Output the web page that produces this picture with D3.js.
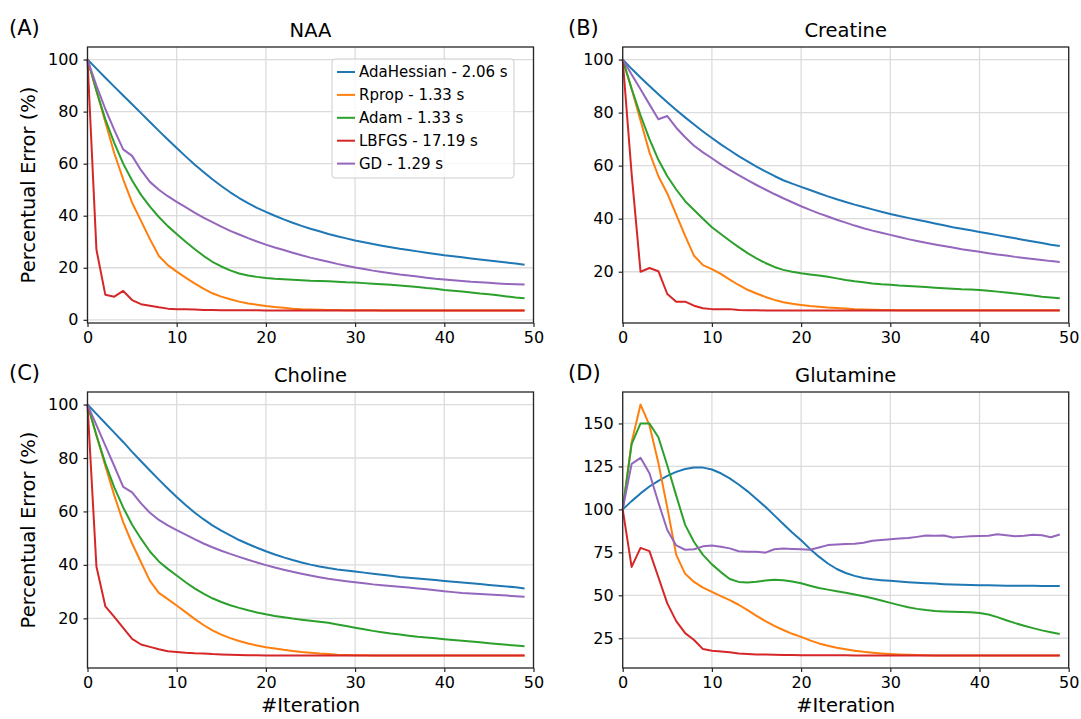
<!DOCTYPE html>
<html>
<head>
<meta charset="utf-8">
<script src="https://cdn.jsdelivr.net/npm/d3@7"></script>
<style>
  body { margin: 0; background: #fff; }
  text { font-family: "DejaVu Sans", sans-serif; fill: #000; }
</style>
</head>
<body>
<div id="chart"></div>
<script>
// methods (legend text)
const methods = ["AdaHessian - 2.06 s", "Rprop - 1.33 s", "Adam - 1.33 s", "LBFGS - 17.19 s", "GD - 1.29 s"];
const colors = ["#1f77b4", "#ff7f0e", "#2ca02c", "#d62728", "#9467bd"];

const xTicks = [0, 10, 20, 30, 40, 50];

// NAA
const naaAdaHessian = [100,96.5,93,89.6,86.2,82.8,79.4,76,72.6,69.3, 66,62.8,59.7,56.8,54,51.4,49,46.8,44.8,43, 41.5,40,38.6,37.3,36.1,35,34,33,32.1,31.3, 30.5,29.8,29.1,28.5,27.9,27.3,26.8,26.3,25.8,25.3, 24.8,24.4,24,23.6,23.2,22.8,22.4,22,21.6,21.2];
const naaRprop = [100,88,76,64,54,45,38,31,24.5,21, 18.5,16.2,14,12,10.2,8.9,7.9,7,6.3,5.8, 5.3,4.9,4.6,4.3,4.1,4,3.9,3.8,3.75,3.7, 3.7,3.65,3.65,3.6,3.6,3.6,3.6,3.6,3.6,3.6, 3.6,3.6,3.6,3.6,3.6,3.6,3.6,3.6,3.6,3.6];
const naaAdam = [100,88,77,68,60,53.5,48,43.5,39.5,36, 33,30,27.2,24.6,22.3,20.5,19,17.8,17,16.5, 16.1,15.8,15.6,15.4,15.2,15,14.9,14.8,14.6,14.4, 14.3,14.1,13.9,13.7,13.5,13.2,12.9,12.6,12.2,11.9, 11.5,11.2,10.9,10.5,10.1,9.8,9.4,9,8.6,8.3];
const naaLbfgs = [100,27,9.6,8.9,11.1,7.6,6,5.4,4.8,4.3, 4.1,4.1,4,3.8,3.8,3.7,3.7,3.7,3.7,3.7, 3.6,3.6,3.6,3.6,3.6,3.6,3.6,3.6,3.6,3.6, 3.6,3.6,3.6,3.6,3.6,3.6,3.6,3.6,3.6,3.6, 3.6,3.6,3.6,3.6,3.6,3.6,3.6,3.6,3.6,3.6];
const naaGd = [100,90,81,73,65.5,63,57.5,53,50,47.5, 45.3,43.3,41.2,39.3,37.5,35.8,34.2,32.8,31.4,30.1, 28.9,27.8,26.8,25.8,24.8,23.9,23.1,22.3,21.5,20.8, 20.1,19.5,18.9,18.4,17.9,17.4,17,16.6,16.2,15.8, 15.5,15.2,14.9,14.6,14.4,14.2,14,13.8,13.7,13.6];

// Creatine
const creAdaHessian = [100,96.5,93.2,90,86.9,83.9,81,78.2,75.5,72.9, 70.4,68,65.8,63.6,61.6,59.6,57.8,56.1,54.5,53.2, 52,50.8,49.6,48.4,47.3,46.3,45.3,44.4,43.5,42.6, 41.8,41,40.3,39.6,38.9,38.2,37.5,36.8,36.2,35.6, 35,34.4,33.8,33.2,32.6,32,31.4,30.8,30.2,29.7];
const creRprop = [100,89,77,65,56,49.5,41.5,33.5,26,22.5, 21,19.2,17,15,13.2,11.8,10.5,9.4,8.5,7.9, 7.5,7.1,6.8,6.5,6.3,6.1,5.9,5.8,5.7,5.6, 5.6,5.5,5.5,5.5,5.5,5.5,5.5,5.5,5.5,5.5, 5.5,5.5,5.5,5.5,5.5,5.5,5.5,5.5,5.5,5.5];
const creAdam = [100,89,79,70,62.2,56,51,46.6,43.3,40, 36.8,34.2,31.7,29.3,27,25,23.3,21.8,20.7,20, 19.4,19,18.6,18.1,17.5,16.9,16.4,16,15.6,15.3, 15.1,14.8,14.6,14.4,14.2,14,13.8,13.6,13.4,13.3, 13.1,12.8,12.5,12.2,11.8,11.4,11,10.6,10.3,10];
const creLbfgs = [100,57,20,21.4,20.2,11.6,8.7,8.7,7.2,6.2, 5.9,5.9,5.9,5.6,5.5,5.5,5.4,5.4,5.4,5.4, 5.4,5.4,5.4,5.4,5.4,5.4,5.4,5.4,5.4,5.4, 5.4,5.4,5.4,5.4,5.4,5.4,5.4,5.4,5.4,5.4, 5.4,5.4,5.4,5.4,5.4,5.4,5.4,5.4,5.4,5.4];
const creGd = [100,94.4,88.8,83.1,77.5,78.7,74.3,70.7,67.5,65, 62.8,60.5,58.4,56.4,54.5,52.7,51,49.3,47.7,46.2, 44.7,43.3,42,40.8,39.6,38.5,37.4,36.4,35.5,34.7, 33.9,33.1,32.3,31.6,30.9,30.3,29.7,29.1,28.5,28, 27.5,27,26.5,26.1,25.6,25.2,24.8,24.4,24,23.7];

// Choline
const choAdaHessian = [100,96.5,93,89.5,86,82.3,78.8,75.3,71.9,68.6, 65.4,62.4,59.6,57.1,54.8,52.8,51,49.3,47.8,46.4, 45.1,43.9,42.8,41.8,40.9,40.1,39.4,38.8,38.3,37.9, 37.5,37.1,36.7,36.3,35.9,35.5,35.2,34.9,34.6,34.3, 34,33.7,33.4,33.1,32.8,32.5,32.2,31.9,31.6,31.2];
const choRprop = [100,88.5,77,66,56,48,41,34,29.5,27.2, 24.8,22.3,19.8,17.5,15.5,13.9,12.6,11.5,10.6,9.8, 9.2,8.7,8.2,7.8,7.4,7.1,6.8,6.6,6.4,6.3, 6.2,6.2,6.1,6.1,6.1,6.1,6.1,6.1,6.1,6.1, 6.1,6.1,6.1,6.1,6.1,6.1,6.1,6.1,6.1,6.1];
const choAdam = [100,88.5,78,69,61.5,55,49.8,45,41.3,38.5, 36,33.5,31.2,29.2,27.5,26.1,24.9,23.9,23,22.2, 21.5,20.9,20.4,19.9,19.5,19.1,18.7,18.3,17.7,17.1, 16.5,15.9,15.3,14.8,14.3,13.9,13.5,13.1,12.8,12.5, 12.2,11.9,11.6,11.3,11,10.7,10.4,10.1,9.8,9.5];
const choLbfgs = [100,39.4,24.5,20.5,16.4,12.3,10.2,9.3,8.4,7.7, 7.4,7.1,6.9,6.8,6.6,6.5,6.4,6.3,6.2,6.2, 6.1,6.1,6.1,6.1,6.1,6.1,6.1,6.1,6.1,6.1, 6.1,6.1,6.1,6.1,6.1,6.1,6.1,6.1,6.1,6.1, 6.1,6.1,6.1,6.1,6.1,6.1,6.1,6.1,6.1,6.1];
const choGd = [100,92.3,84.6,77,69.2,67.1,63,59.5,56.8,54.8, 53,51.3,49.6,48,46.6,45.3,44.1,43,41.9,40.9, 39.9,39,38.2,37.4,36.7,36,35.4,34.8,34.3,33.9, 33.5,33.1,32.7,32.4,32.1,31.8,31.5,31.2,30.9,30.5, 30.1,29.8,29.5,29.3,29.1,28.9,28.7,28.5,28.3,28.1];

// Glutamine
const gluAdaHessian = [100,104.8,109.3,113.3,116.6,119.5,121.8,123.5,124.4,124.3, 123.2,121,118,114.5,110.5,106,101.5,96.5,91.5,86.5, 82,77,72.5,68.5,65.3,63,61.3,60.1,59.3,58.8, 58.4,58,57.6,57.3,57,56.8,56.5,56.3,56.1,56, 55.9,55.8,55.7,55.6,55.6,55.5,55.5,55.4,55.4,55.4];
const gluRprop = [100,139,161,149,127,101,73.5,62.5,57.8,54.5, 52,49.5,47.2,44.5,41.4,38,35,32.2,29.8,27.6, 25.8,23.8,22,20.6,19.5,18.6,17.8,17.1,16.6,16.2, 15.9,15.6,15.4,15.2,15.1,15,15,15,15,15, 15,15,15,15,15,15,15,15,15,15];
const gluAdam = [100,138,150,150,142,125.5,108,91,81,73.5, 68,63.5,59.5,57.8,57.5,57.9,58.6,59,58.8,58, 57,55.6,54.2,53.3,52.4,51.5,50.5,49.4,48.3,47, 45.6,44.3,43.1,42.1,41.4,40.9,40.6,40.4,40.3,40.1, 39.7,38.8,37.3,35.5,33.8,32.3,30.9,29.6,28.5,27.5];
const gluLbfgs = [100,66.5,77.6,75.7,60.5,45.3,35,28,24,18.7, 17.8,17.3,16.9,16.1,15.8,15.6,15.5,15.4,15.3,15.2, 15.1,15.1,15.1,15.1,15.1,15.1,15,15,15,15, 15,15,15,15,15,15,15,15,15,15, 15,15,15,15,15,15,15,15,15,15];
const gluGd = [100,126.5,130,121,104,88,79,76.5,76.8,78.5, 79,78.3,77.3,75.6,75.4,75.3,74.8,76.8,77.2,77, 76.8,76.5,77.8,79.2,79.5,79.8,80,80.6,81.8,82.2, 82.6,83,83.3,84,84.8,84.7,84.8,83.6,84,84.4, 84.5,84.6,85.5,85,84.4,84.6,85.2,84.9,83.8,85.4];

const panels = [
    { label: "(A)", title: "NAA", series: [naaAdaHessian, naaRprop, naaAdam, naaLbfgs, naaGd],
      yTicks: [0, 20, 40, 60, 80, 100], left: 87.5, top: 47, yLabel: true, xLabel: false, legend: true },
    { label: "(B)", title: "Creatine", series: [creAdaHessian, creRprop, creAdam, creLbfgs, creGd],
      yTicks: [20, 40, 60, 80, 100], left: 622.7, top: 47, yLabel: false, xLabel: false, legend: false },
    { label: "(C)", title: "Choline", series: [choAdaHessian, choRprop, choAdam, choLbfgs, choGd],
      yTicks: [20, 40, 60, 80, 100], left: 87.5, top: 392, yLabel: true, xLabel: true, legend: false },
    { label: "(D)", title: "Glutamine", series: [gluAdaHessian, gluRprop, gluAdam, gluLbfgs, gluGd],
      yTicks: [25, 50, 75, 100, 125, 150], left: 622.7, top: 392, yLabel: false, xLabel: true, legend: false }
];

const pw = 446, ph = 276;

const svg = d3.select("#chart")
    .append("svg")
    .attr("width", 1081)
    .attr("height", 719);

panels.forEach(p => {
    const g = svg.append("g")
        .attr("transform", `translate(${p.left},${p.top})`);

    const x = d3.scaleLinear().domain([0, 50]).range([0, pw]);

    // matplotlib style 5% margin around the data
    const all = p.series.flat();
    const ext = d3.extent(all);
    const pad = (ext[1] - ext[0]) * 0.05;
    const y = d3.scaleLinear().domain([ext[0] - pad, ext[1] + pad]).range([ph, 0]);

    // grid
    g.append("g").selectAll("line")
        .data(xTicks)
        .join("line")
        .attr("x1", d => x(d)).attr("x2", d => x(d))
        .attr("y1", 0).attr("y2", ph)
        .attr("stroke", "#dcdcdc").attr("stroke-width", 1.3);
    g.append("g").selectAll("line")
        .data(p.yTicks)
        .join("line")
        .attr("x1", 0).attr("x2", pw)
        .attr("y1", d => y(d)).attr("y2", d => y(d))
        .attr("stroke", "#dcdcdc").attr("stroke-width", 1.3);

    // lines
    const line = d3.line()
        .x((d, i) => x(i))
        .y(d => y(d));

    p.series.forEach((s, k) => {
        g.append("path")
            .datum(s)
            .attr("fill", "none")
            .attr("stroke", colors[k])
            .attr("stroke-width", 2)
            .attr("stroke-linejoin", "round")
            .attr("d", line);
    });

    // frame
    g.append("rect")
        .attr("width", pw).attr("height", ph)
        .attr("fill", "none")
        .attr("stroke", "#262626")
        .attr("stroke-width", 1.3);

    // axes
    const xAxis = g.append("g")
        .attr("transform", `translate(0,${ph})`)
        .call(d3.axisBottom(x).tickValues(xTicks).tickSize(4).tickPadding(5));
    const yAxis = g.append("g")
        .call(d3.axisLeft(y).tickValues(p.yTicks).tickSize(4).tickPadding(5));
    [xAxis, yAxis].forEach(a => {
        a.select(".domain").remove();
        a.selectAll(".tick line").attr("stroke", "#262626").attr("stroke-width", 1.2);
        a.selectAll(".tick text")
            .style("font-family", "DejaVu Sans, sans-serif")
            .style("font-size", "16px")
            .attr("fill", "#000");
    });

    // title
    g.append("text")
        .attr("x", pw / 2)
        .attr("y", -10)
        .attr("text-anchor", "middle")
        .style("font-size", "19.5px")
        .text(p.title);

    // panel label
    g.append("text")
        .attr("x", p.left < 300 ? 9 - p.left : 568 - p.left)
        .attr("y", -12)
        .style("font-size", "21px")
        .text(p.label);

    if (p.yLabel) {
        g.append("text")
            .attr("transform", "rotate(-90)")
            .attr("x", -ph / 2)
            .attr("y", 35 - p.left)
            .attr("text-anchor", "middle")
            .style("font-size", "19.5px")
            .text("Percentual Error (%)");
    }

    if (p.xLabel) {
        g.append("text")
            .attr("x", pw / 2)
            .attr("y", 712 - p.top)
            .attr("text-anchor", "middle")
            .style("font-size", "19.5px")
            .text("#Iteration");
    }

    if (p.legend) {
        const lg = g.append("g")
            .attr("transform", "translate(244.5,12)");
        lg.append("rect")
            .attr("width", 182).attr("height", 119)
            .attr("rx", 3)
            .attr("fill", "#fff").attr("fill-opacity", 0.8)
            .attr("stroke", "#cccccc").attr("stroke-width", 1);
        const rows = lg.selectAll("g.row")
            .data(methods)
            .join("g")
            .attr("class", "row")
            .attr("transform", (d, i) => `translate(0,${13 + i * 22.9})`);
        rows.append("line")
            .attr("x1", 5).attr("x2", 23)
            .attr("stroke", (d, i) => colors[i])
            .attr("stroke-width", 2);
        rows.append("text")
            .attr("x", 27)
            .attr("dy", "0.35em")
            .style("font-size", "15px")
            .text(d => d);
    }
});
</script>
</body>
</html>
